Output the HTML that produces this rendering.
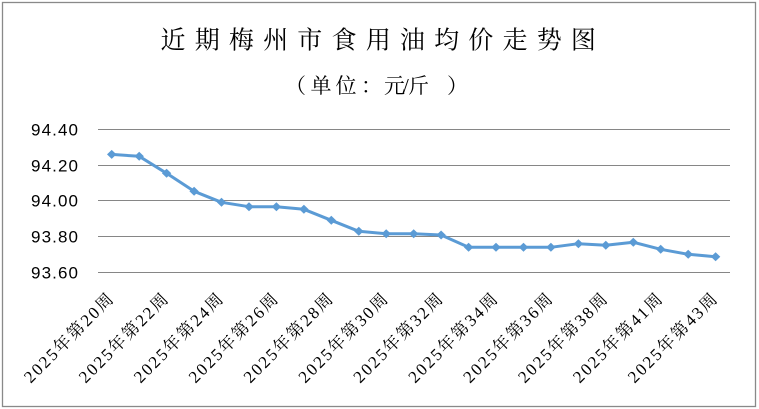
<!DOCTYPE html>
<html>
<head>
<meta charset="utf-8">
<style>
html,body{margin:0;padding:0;background:#fff;}
svg{display:block;}
</style>
</head>
<body>
<svg width="759" height="409" viewBox="0 0 759 409" xmlns="http://www.w3.org/2000/svg">
<rect x="0" y="0" width="759" height="409" fill="#fff"/>
<rect x="2.5" y="2.5" width="753" height="404" fill="none" stroke="#898989" stroke-width="1.3"/>

<!-- Title -->
<g font-family="'Liberation Serif','Noto Serif CJK SC',serif" font-size="25" fill="#000">
<text x="160.5" y="48.5">近</text>
<text x="194.7" y="48.5">期</text>
<text x="228.9" y="48.5">梅</text>
<text x="263.1" y="48.5">州</text>
<text x="297.3" y="48.5">市</text>
<text x="331.5" y="48.5">食</text>
<text x="365.7" y="48.5">用</text>
<text x="399.9" y="48.5">油</text>
<text x="434.1" y="48.5">均</text>
<text x="468.3" y="48.5">价</text>
<text x="502.5" y="48.5">走</text>
<text x="536.7" y="48.5">势</text>
<text x="570.9" y="48.5">图</text>
</g>
<!-- Subtitle -->
<g font-family="'Liberation Serif','Noto Serif CJK SC',serif" font-size="21" fill="#000">
<text x="285" y="93">（</text>
<text x="310.5" y="93">单</text>
<text x="335.5" y="93">位</text>
<text x="361" y="93">：</text>
<text x="384" y="93">元</text>
<text x="403" y="93">/</text>
<text x="408" y="93">斤</text>
<text x="447" y="93">）</text>
</g>

<!-- Gridlines -->
<g stroke="#868686" stroke-width="1">
<line x1="98" y1="129.5" x2="730" y2="129.5"/>
<line x1="98" y1="165.5" x2="730" y2="165.5"/>
<line x1="98" y1="200.5" x2="730" y2="200.5"/>
<line x1="98" y1="236.5" x2="730" y2="236.5"/>
<line x1="98" y1="272.5" x2="730" y2="272.5"/>
</g>

<!-- Y labels -->
<g font-family="'Liberation Sans',sans-serif" font-size="17" fill="#000" text-anchor="end">
<text x="78" y="135.5" textLength="47" lengthAdjust="spacing">94.40</text>
<text x="78" y="171.3" textLength="47" lengthAdjust="spacing">94.20</text>
<text x="78" y="206.6" textLength="47" lengthAdjust="spacing">94.00</text>
<text x="78" y="242.4" textLength="47" lengthAdjust="spacing">93.80</text>
<text x="78" y="278.4" textLength="47" lengthAdjust="spacing">93.60</text>
</g>

<!-- Series line -->
<polyline fill="none" stroke="#5B9BD5" stroke-width="3" stroke-linejoin="round" stroke-linecap="round"
points="111.7,154.4 139.2,156.3 166.6,173.3 194.1,191.3 221.5,202.3 249.0,206.7 276.4,206.7 303.9,209.3 331.3,220.3 358.8,231.3 386.2,233.7 413.7,233.7 441.1,235.0 468.6,247.3 496.0,247.3 523.5,247.3 550.9,247.3 578.4,243.7 605.8,245.3 633.3,242.3 660.7,249.3 688.2,254.3 715.6,256.7"/>

<!-- Markers -->
<g fill="#5B9BD5">
<polygon points="111.7,149.9 116.4,154.4 111.7,158.9 107.0,154.4"/>
<polygon points="139.2,151.8 143.9,156.3 139.2,160.8 134.5,156.3"/>
<polygon points="166.6,168.8 171.3,173.3 166.6,177.8 161.9,173.3"/>
<polygon points="194.1,186.8 198.8,191.3 194.1,195.8 189.4,191.3"/>
<polygon points="221.5,197.8 226.2,202.3 221.5,206.8 216.8,202.3"/>
<polygon points="249.0,202.2 253.7,206.7 249.0,211.2 244.3,206.7"/>
<polygon points="276.4,202.2 281.1,206.7 276.4,211.2 271.7,206.7"/>
<polygon points="303.9,204.8 308.6,209.3 303.9,213.8 299.2,209.3"/>
<polygon points="331.3,215.8 336.0,220.3 331.3,224.8 326.6,220.3"/>
<polygon points="358.8,226.8 363.5,231.3 358.8,235.8 354.1,231.3"/>
<polygon points="386.2,229.2 390.9,233.7 386.2,238.2 381.5,233.7"/>
<polygon points="413.7,229.2 418.4,233.7 413.7,238.2 409.0,233.7"/>
<polygon points="441.1,230.5 445.8,235.0 441.1,239.5 436.4,235.0"/>
<polygon points="468.6,242.8 473.3,247.3 468.6,251.8 463.9,247.3"/>
<polygon points="496.0,242.8 500.7,247.3 496.0,251.8 491.3,247.3"/>
<polygon points="523.5,242.8 528.2,247.3 523.5,251.8 518.8,247.3"/>
<polygon points="550.9,242.8 555.6,247.3 550.9,251.8 546.2,247.3"/>
<polygon points="578.4,239.2 583.1,243.7 578.4,248.2 573.7,243.7"/>
<polygon points="605.8,240.8 610.5,245.3 605.8,249.8 601.1,245.3"/>
<polygon points="633.3,237.8 638.0,242.3 633.3,246.8 628.6,242.3"/>
<polygon points="660.7,244.8 665.4,249.3 660.7,253.8 656.0,249.3"/>
<polygon points="688.2,249.8 692.9,254.3 688.2,258.8 683.5,254.3"/>
<polygon points="715.6,252.2 720.3,256.7 715.6,261.2 710.9,256.7"/>
</g>

<!-- X labels -->
<g font-family="'Liberation Serif','Noto Serif CJK SC',serif" font-size="17" fill="#000" text-anchor="middle">
<text transform="translate(72.5,342.1) rotate(-45)" textLength="118" lengthAdjust="spacing">2025年第20周</text>
<text transform="translate(127.4,342.1) rotate(-45)" textLength="118" lengthAdjust="spacing">2025年第22周</text>
<text transform="translate(182.3,342.1) rotate(-45)" textLength="118" lengthAdjust="spacing">2025年第24周</text>
<text transform="translate(237.2,342.1) rotate(-45)" textLength="118" lengthAdjust="spacing">2025年第26周</text>
<text transform="translate(292.1,342.1) rotate(-45)" textLength="118" lengthAdjust="spacing">2025年第28周</text>
<text transform="translate(347.0,342.1) rotate(-45)" textLength="118" lengthAdjust="spacing">2025年第30周</text>
<text transform="translate(401.9,342.1) rotate(-45)" textLength="118" lengthAdjust="spacing">2025年第32周</text>
<text transform="translate(456.8,342.1) rotate(-45)" textLength="118" lengthAdjust="spacing">2025年第34周</text>
<text transform="translate(511.7,342.1) rotate(-45)" textLength="118" lengthAdjust="spacing">2025年第36周</text>
<text transform="translate(566.6,342.1) rotate(-45)" textLength="118" lengthAdjust="spacing">2025年第38周</text>
<text transform="translate(621.5,342.1) rotate(-45)" textLength="118" lengthAdjust="spacing">2025年第41周</text>
<text transform="translate(676.4,342.1) rotate(-45)" textLength="118" lengthAdjust="spacing">2025年第43周</text>
</g>
</svg>
</body>
</html>
